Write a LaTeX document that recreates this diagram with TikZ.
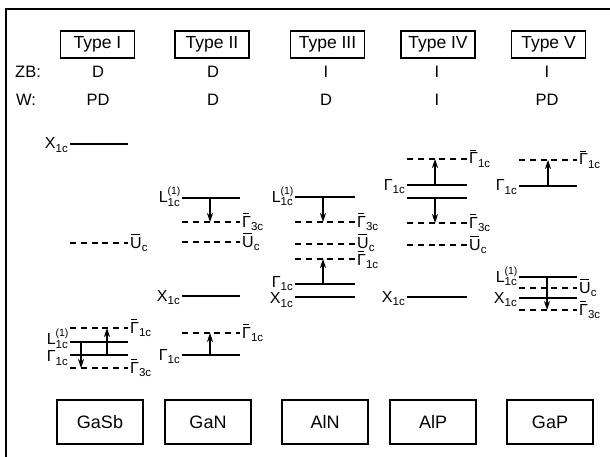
\documentclass[tikz,border=0pt]{standalone}
\usepackage{fontspec}
\setmainfont{Liberation Sans}
\usetikzlibrary{arrows.meta}
\newcommand\lvsub[1]{\raisebox{-3.5pt}{\fontsize{11.5}{11.5}\selectfont #1}}
\newcommand\lvbar[1]{\setbox0\hbox{#1}\rlap{\raisebox{\dimexpr\ht0+2pt\relax}{\hspace{1pt}\rule{\dimexpr\wd0-3pt\relax}{1pt}}}\box0}
\newcommand\Lone{L\rlap{\raisebox{8pt}{\fontsize{10.5}{10.5}\selectfont(1)}}\lvsub{1c}}
\newcommand\levL[7]{\coordinate (#1a) at (#2,#4); \coordinate (#1b) at (#3,#4); \draw[#5] (#1a) -- (#1b); \node[lbl,anchor=base east,#7] (#1t) at ([xshift=-2pt,yshift=-5pt]#1a) {#6};}
\newcommand\levR[7]{\coordinate (#1a) at (#2,#4); \coordinate (#1b) at (#3,#4); \draw[#5] (#1a) -- (#1b); \node[lbl,anchor=base west,#7] (#1t) at ([xshift=2pt,yshift=-5pt]#1b) {#6};}
\newcommand\levN[5]{\coordinate (#1a) at (#2,#4); \coordinate (#1b) at (#3,#4); \draw[#5] (#1a) -- (#1b);}
\newcommand\levarrow[4]{\coordinate (#1s) at (#2,#3); \coordinate (#1e) at (#2,#4); \draw[arr] (#1s) -- (#1e);}
\tikzset{
  lvs/.style={line width=1.5pt},
  lvd/.style={line width=1.5pt, dash pattern=on 6pt off 4.8pt},
  arr/.style={line width=1.1pt, -{Stealth[length=9pt,width=6pt]}},
  lbl/.style={font=\fontsize{16}{16}\selectfont, inner sep=0pt},
  typebox/.style={draw, line width=1.4pt, minimum width=74pt, minimum height=27pt, inner sep=0pt, font=\fontsize{17.5}{17.5}\selectfont},
  cmpbox/.style={draw, line width=1.4pt, minimum width=86pt, minimum height=44pt, inner sep=0pt, font=\fontsize{18}{18}\selectfont},
  rowtxt/.style={font=\fontsize{16.5}{16.5}\selectfont, inner sep=0pt}
}
\begin{document}
\begin{tikzpicture}[x=1pt,y=-1pt]
\useasboundingbox (0,0) rectangle (610,457);
\draw[line width=1.4pt] (6,457) -- (6,9) -- (610,9);
% type boxes
\node[typebox] (t1) at (97.5,44.5) {Type I};
\node[typebox] (t2) at (212,44.5) {Type II};
\node[typebox] (t3) at (327.5,44.5) {Type III};
\node[typebox] (t4) at (438,44.5) {Type IV};
\node[typebox] (t5) at (548.5,44.5) {Type V};
% rows
\node[rowtxt,anchor=west] (zb) at (15,72) {ZB:};
\node[rowtxt,anchor=west] (w) at (16,100) {W:};
\node[rowtxt] (zb1) at (98,72) {D};
\node[rowtxt] (zb2) at (213,72) {D};
\node[rowtxt] (zb3) at (326,72) {I};
\node[rowtxt] (zb4) at (437,72) {I};
\node[rowtxt] (zb5) at (547,72) {I};
\node[rowtxt] (w1) at (98,100) {PD};
\node[rowtxt] (w2) at (213,100) {D};
\node[rowtxt] (w3) at (326,100) {D};
\node[rowtxt] (w4) at (437,100) {I};
\node[rowtxt] (w5) at (547,100) {PD};
% column 1 GaSb
\levL{a1}{70}{128}{144}{lvs}{X\lvsub{1c}}{}
\levR{a2}{70}{128}{243}{lvd}{\lvbar{U}\lvsub{c}}{}
\levR{a3}{70}{128}{328}{lvd}{\lvbar{Γ}\lvsub{1c}}{}
\levL{a4}{70}{128}{342}{lvs}{\Lone}{yshift=2.5pt}
\levL{a5}{70}{128}{355}{lvs}{Γ\lvsub{1c}}{yshift=-1.5pt}
\levR{a6}{70}{128}{368}{lvd}{\lvbar{Γ}\lvsub{3c}}{}
\levarrow{a7}{81}{342}{368}
\levarrow{a8}{107}{355}{328}
% column 2 GaN
\levL{b1}{182}{240}{198}{lvs}{\Lone}{}
\levR{b2}{182}{240}{222}{lvd}{\lvbar{Γ}\lvsub{3c}}{}
\levR{b3}{182}{240}{242}{lvd}{\lvbar{U}\lvsub{c}}{}
\levL{b4}{182}{240}{296}{lvs}{X\lvsub{1c}}{}
\levR{b5}{182}{240}{333}{lvd}{\lvbar{Γ}\lvsub{1c}}{}
\levL{b6}{182}{240}{355}{lvs}{Γ\lvsub{1c}}{}
\levarrow{b7}{210}{198}{222}
\levarrow{b8}{210}{355}{333}
% column 3 AlN
\levL{c1}{295}{355}{197}{lvs}{\Lone}{}
\levR{c2}{295}{355}{222}{lvd}{\lvbar{Γ}\lvsub{3c}}{}
\levR{c3}{295}{355}{244}{lvd}{\lvbar{U}\lvsub{c}}{yshift=1pt}
\levR{c4}{295}{355}{259}{lvd}{\lvbar{Γ}\lvsub{1c}}{yshift=-1pt}
\levL{c5}{295}{355}{284}{lvs}{Γ\lvsub{1c}}{yshift=2pt}
\levL{c6}{295}{355}{297}{lvs}{X\lvsub{1c}}{yshift=-1.5pt}
\levarrow{c7}{323}{197}{222}
\levarrow{c8}{323}{284}{259}
% column 4 AlP
\levR{d1}{407}{467}{159}{lvd}{\lvbar{Γ}\lvsub{1c}}{}
\levL{d2}{407}{467}{185}{lvs}{Γ\lvsub{1c}}{}
\levN{d3}{407}{467}{198}{lvs}
\levR{d4}{407}{467}{223}{lvd}{\lvbar{Γ}\lvsub{3c}}{}
\levR{d5}{407}{467}{245}{lvd}{\lvbar{U}\lvsub{c}}{}
\levL{d6}{407}{467}{297}{lvs}{X\lvsub{1c}}{}
\levarrow{d7}{435}{185}{159}
\levarrow{d8}{435}{198}{223}
% column 5 GaP
\levR{e1}{519}{577}{160}{lvd}{\lvbar{Γ}\lvsub{1c}}{}
\levL{e2}{519}{577}{186}{lvs}{Γ\lvsub{1c}}{}
\levL{e3}{519}{577}{277}{lvs}{\Lone}{}
\levR{e4}{519}{577}{288}{lvd}{\lvbar{U}\lvsub{c}}{}
\levL{e5}{519}{577}{298}{lvs}{X\lvsub{1c}}{}
\levR{e6}{519}{577}{310}{lvd}{\lvbar{Γ}\lvsub{3c}}{}
\levarrow{e7}{548}{186}{160}
\levarrow{e8}{547}{277}{310}
% compound boxes
\node[cmpbox] (m1) at (100,422) {GaSb};
\node[cmpbox] (m2) at (208,422) {GaN};
\node[cmpbox] (m3) at (325,422) {AlN};
\node[cmpbox] (m4) at (433,422) {AlP};
\node[cmpbox] (m5) at (550,422) {GaP};
\end{tikzpicture}
\end{document}
